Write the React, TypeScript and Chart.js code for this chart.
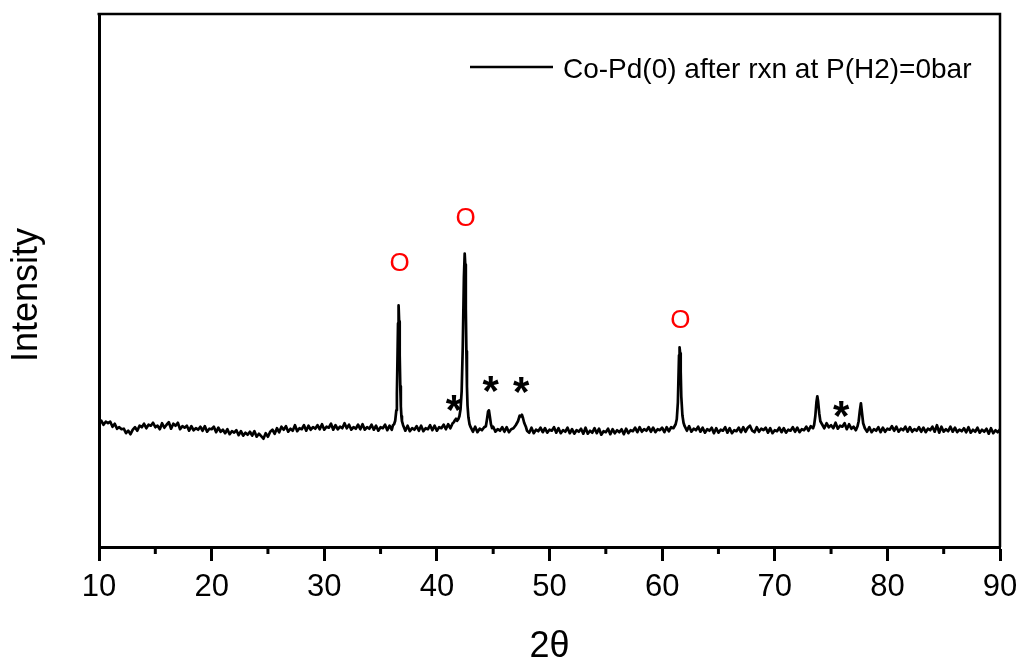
import React, { useEffect, useRef } from 'react';
import { Chart, registerables } from 'chart.js';

Chart.register(...registerables);

const seriesLabel = 'Co-Pd(0) after rxn at P(H2)=0bar';
const xTitle = '2θ';
const yTitle = 'Intensity';
const xRange = [10, 90];
const yRange = [0, 1068];
const minorTicks = [15, 25, 35, 45, 55, 65, 75, 85];

// XRD scan: [2θ, intensity]
const scan: [number, number][] = [
  [10.0, 246], [10.2, 253], [10.4, 245], [10.6, 251], [10.8, 248], [11.0, 251], [11.2, 241], [11.4, 247], [11.6, 237], [11.8, 240],
  [12.0, 236], [12.2, 237], [12.4, 228], [12.6, 233], [12.8, 226], [13.0, 235], [13.2, 240], [13.4, 233], [13.6, 243], [13.8, 240],
  [14.0, 247], [14.2, 238], [14.4, 245], [14.6, 243], [14.8, 249], [15.0, 240], [15.2, 243], [15.4, 236], [15.6, 248], [15.8, 239],
  [16.0, 245], [16.2, 250], [16.4, 237], [16.6, 247], [16.8, 243], [17.0, 249], [17.2, 236], [17.4, 242], [17.6, 239], [17.8, 243],
  [18.0, 233], [18.2, 242], [18.4, 234], [18.6, 238], [18.8, 235], [19.0, 241], [19.2, 233], [19.4, 242], [19.6, 231], [19.8, 237],
  [20.0, 236], [20.2, 241], [20.4, 230], [20.6, 239], [20.8, 231], [21.0, 235], [21.2, 228], [21.4, 236], [21.6, 226], [21.8, 232],
  [22.0, 229], [22.2, 234], [22.4, 224], [22.6, 232], [22.8, 223], [23.0, 229], [23.2, 225], [23.4, 231], [23.6, 223], [23.8, 232],
  [24.0, 221], [24.2, 227], [24.4, 222], [24.6, 217], [24.8, 228], [25.0, 221], [25.2, 231], [25.4, 235], [25.6, 227], [25.8, 238],
  [26.0, 230], [26.2, 241], [26.4, 235], [26.6, 242], [26.8, 231], [27.0, 237], [27.2, 233], [27.4, 244], [27.6, 232], [27.8, 238],
  [28.0, 236], [28.2, 244], [28.4, 233], [28.6, 243], [28.8, 235], [29.0, 240], [29.2, 237], [29.4, 244], [29.6, 236], [29.8, 246],
  [30.0, 235], [30.2, 241], [30.4, 239], [30.6, 247], [30.8, 235], [31.0, 244], [31.2, 236], [31.4, 241], [31.6, 238], [31.8, 248],
  [32.0, 238], [32.2, 245], [32.4, 235], [32.6, 240], [32.8, 237], [33.0, 245], [33.2, 236], [33.4, 246], [33.6, 235], [33.8, 240],
  [34.0, 237], [34.2, 245], [34.4, 235], [34.6, 243], [34.8, 233], [35.0, 240], [35.2, 238], [35.4, 245], [35.6, 234], [35.8, 243],
  [36.0, 235], [36.1, 244], [36.2, 246], [36.3, 253], [36.4, 274], [36.45, 308], [36.5, 375], [36.55, 448], [36.6, 484], [36.65, 452],
  [36.7, 384], [36.75, 322], [36.8, 282], [36.85, 262], [36.9, 252], [37.0, 244], [37.2, 233], [37.4, 243], [37.6, 232], [37.8, 238],
  [38.0, 235], [38.2, 242], [38.4, 233], [38.6, 243], [38.8, 232], [39.0, 238], [39.2, 236], [39.4, 244], [39.6, 234], [39.8, 243],
  [40.0, 233], [40.2, 240], [40.4, 238], [40.6, 245], [40.8, 236], [41.0, 246], [41.2, 238], [41.4, 248], [41.5, 250], [41.6, 254],
  [41.7, 257], [41.8, 253], [41.9, 256], [42.0, 262], [42.1, 276], [42.2, 312], [42.3, 402], [42.4, 540], [42.47, 588], [42.52, 566],
  [42.57, 478], [42.62, 392], [42.67, 322], [42.72, 284], [42.8, 260], [42.9, 246], [43.0, 240], [43.2, 231], [43.4, 241], [43.6, 230],
  [43.8, 237], [44.0, 234], [44.2, 240], [44.35, 242], [44.45, 256], [44.55, 272], [44.62, 274], [44.7, 262], [44.8, 246], [44.9, 238],
  [45.0, 241], [45.2, 231], [45.4, 236], [45.6, 233], [45.8, 240], [46.0, 231], [46.2, 240], [46.4, 230], [46.6, 236], [46.8, 238],
  [47.0, 244], [47.2, 252], [47.35, 263], [47.45, 262], [47.55, 265], [47.65, 258], [47.75, 249], [47.9, 241], [48.0, 233], [48.2, 229],
  [48.4, 239], [48.6, 228], [48.8, 235], [49.0, 232], [49.2, 239], [49.4, 230], [49.6, 238], [49.8, 229], [50.0, 235], [50.2, 233],
  [50.4, 240], [50.6, 229], [50.8, 238], [51.0, 228], [51.2, 234], [51.4, 231], [51.6, 239], [51.8, 228], [52.0, 236], [52.2, 227],
  [52.4, 234], [52.6, 231], [52.8, 237], [53.0, 227], [53.2, 239], [53.4, 227], [53.6, 233], [53.8, 229], [54.0, 238], [54.2, 228],
  [54.4, 237], [54.6, 225], [54.8, 232], [55.0, 230], [55.2, 237], [55.4, 226], [55.6, 236], [55.8, 228], [56.0, 234], [56.2, 230],
  [56.4, 236], [56.6, 226], [56.8, 237], [57.0, 228], [57.2, 234], [57.4, 232], [57.6, 239], [57.8, 230], [58.0, 240], [58.2, 231],
  [58.4, 236], [58.6, 233], [58.8, 240], [59.0, 231], [59.2, 239], [59.4, 230], [59.6, 236], [59.8, 234], [60.0, 239], [60.2, 230],
  [60.4, 240], [60.6, 232], [60.8, 240], [61.0, 238], [61.2, 246], [61.3, 256], [61.4, 290], [61.45, 338], [61.5, 384], [61.55, 400],
  [61.6, 388], [61.65, 352], [61.7, 302], [61.8, 264], [61.9, 249], [62.0, 242], [62.2, 233], [62.4, 242], [62.6, 231], [62.8, 237],
  [63.0, 234], [63.2, 241], [63.4, 231], [63.6, 239], [63.8, 229], [64.0, 236], [64.2, 233], [64.4, 239], [64.6, 228], [64.8, 238],
  [65.0, 229], [65.2, 235], [65.4, 233], [65.6, 240], [65.8, 229], [66.0, 238], [66.2, 228], [66.4, 234], [66.6, 232], [66.8, 239],
  [67.0, 230], [67.2, 240], [67.4, 231], [67.6, 239], [67.8, 243], [68.0, 233], [68.2, 230], [68.4, 240], [68.6, 231], [68.8, 237],
  [69.0, 234], [69.2, 239], [69.4, 229], [69.6, 238], [69.8, 228], [70.0, 234], [70.2, 232], [70.4, 239], [70.6, 230], [70.8, 238],
  [71.0, 229], [71.2, 235], [71.4, 233], [71.6, 240], [71.8, 231], [72.0, 239], [72.2, 230], [72.4, 236], [72.6, 234], [72.8, 241],
  [73.0, 233], [73.2, 242], [73.4, 238], [73.5, 245], [73.6, 262], [73.7, 290], [73.78, 302], [73.85, 292], [73.95, 268], [74.05, 252],
  [74.2, 246], [74.4, 238], [74.6, 248], [74.8, 240], [75.0, 244], [75.2, 238], [75.4, 249], [75.6, 237], [75.8, 243], [76.0, 241],
  [76.2, 248], [76.4, 236], [76.6, 246], [76.8, 237], [77.0, 241], [77.2, 234], [77.35, 242], [77.45, 252], [77.55, 272], [77.65, 288],
  [77.75, 268], [77.85, 248], [78.0, 238], [78.2, 231], [78.4, 240], [78.6, 230], [78.8, 236], [79.0, 233], [79.2, 240], [79.4, 230],
  [79.6, 239], [79.8, 231], [80.0, 237], [80.2, 235], [80.4, 242], [80.6, 233], [80.8, 241], [81.0, 231], [81.2, 237], [81.4, 234],
  [81.6, 241], [81.8, 231], [82.0, 240], [82.2, 231], [82.4, 236], [82.6, 233], [82.8, 240], [83.0, 231], [83.2, 239], [83.4, 230],
  [83.6, 237], [83.8, 234], [84.0, 241], [84.2, 231], [84.4, 244], [84.6, 229], [84.8, 241], [85.0, 231], [85.2, 236], [85.4, 232],
  [85.6, 241], [85.8, 231], [86.0, 239], [86.2, 230], [86.4, 235], [86.6, 232], [86.8, 238], [87.0, 230], [87.2, 240], [87.4, 229],
  [87.6, 235], [87.8, 231], [88.0, 239], [88.2, 229], [88.4, 235], [88.6, 231], [88.8, 237], [89.0, 227], [89.2, 238], [89.4, 228],
  [89.6, 234], [89.8, 230], [90.0, 236],
];

// Peak markers (O = oxide phase, * = metal phase)
const markText = ['O', 'O', 'O', '*', '*', '*', '*'];
const markTheta = [36.7, 42.55, 61.62, 41.51, 44.77, 47.49, 75.9];
const markIntensity = [572, 662, 458, 295, 334, 331, 284];

const FONT = '"Liberation Sans", Arial, sans-serif';

const decorPlugin = {
  id: 'decor',
  afterDraw(chart: any) {
    const { ctx, chartArea: a, scales } = chart;
    const x = scales.x;
    const y = scales.y;
    ctx.save();
    ctx.strokeStyle = '#000';
    ctx.lineWidth = 2.5;
    // top + right frame
    ctx.beginPath();
    ctx.moveTo(a.left - 1.5, a.top);
    ctx.lineTo(a.right, a.top);
    ctx.lineTo(a.right, a.bottom);
    ctx.stroke();
    // minor ticks
    ctx.lineWidth = 3;
    minorTicks.forEach((v) => {
      const px = x.getPixelForValue(v);
      ctx.beginPath();
      ctx.moveTo(px, a.bottom);
      ctx.lineTo(px, a.bottom + 7);
      ctx.stroke();
    });
    // peak markers
    ctx.textAlign = 'center';
    ctx.textBaseline = 'alphabetic';
    markText.forEach((t, i) => {
      const px = x.getPixelForValue(markTheta[i]);
      const py = y.getPixelForValue(markIntensity[i]);
      if (t === 'O') {
        ctx.fillStyle = '#ff0000';
        ctx.font = `26px ${FONT}`;
        ctx.fillText(t, px, py + 9.3);
      } else {
        ctx.fillStyle = '#000';
        ctx.font = `bold 42px ${FONT}`;
        ctx.fillText(t, px, py + 24.5);
      }
    });
    // y title
    ctx.save();
    ctx.translate(27, 295);
    ctx.rotate(-Math.PI / 2);
    ctx.fillStyle = '#000';
    ctx.font = `36px ${FONT}`;
    ctx.textAlign = 'center';
    ctx.textBaseline = 'middle';
    ctx.fillText(yTitle, 0, 0);
    ctx.restore();
    // legend
    const ds = chart.data.datasets[0];
    ctx.strokeStyle = ds.borderColor;
    ctx.lineWidth = 2.5;
    ctx.beginPath();
    ctx.moveTo(470, 67);
    ctx.lineTo(553, 67);
    ctx.stroke();
    ctx.fillStyle = '#000';
    ctx.font = `28px ${FONT}`;
    ctx.textAlign = 'left';
    ctx.textBaseline = 'alphabetic';
    ctx.fillText(ds.label, 563, 78);
    ctx.restore();
  },
};

export default function App() {
  const ref = useRef<HTMLCanvasElement>(null);
  useEffect(() => {
    if (!ref.current) return;
    const chart = new Chart(ref.current, {
      type: 'line',
      data: {
        datasets: [
          {
            label: seriesLabel,
            data: scan.map(([t, v]) => ({ x: t, y: v })),
            borderColor: '#000',
            borderWidth: 2.7,
            borderJoinStyle: 'round',
            borderCapStyle: 'round',
            pointRadius: 0,
            fill: false,
            tension: 0,
          },
        ],
      },
      options: {
        responsive: false,
        maintainAspectRatio: false,
        animation: false,
        layout: { padding: { left: 0, top: 14, right: 23, bottom: 0 } },
        plugins: { legend: { display: false }, tooltip: { enabled: false } },
        scales: {
          x: {
            type: 'linear',
            min: xRange[0],
            max: xRange[1],
            afterFit: (s: any) => {
              s.height = 119;
              s.paddingLeft = 0;
              s.paddingRight = 0;
            },
            ticks: {
              stepSize: 10,
              color: '#000',
              font: { family: FONT, size: 31 },
              padding: 8,
              maxRotation: 0,
            },
            grid: {
              display: true,
              drawOnChartArea: false,
              drawTicks: true,
              tickLength: 14,
              tickWidth: 3,
              tickColor: '#000',
            },
            border: { display: true, color: '#000', width: 3 },
            title: {
              display: true,
              text: xTitle,
              color: '#000',
              font: { family: FONT, size: 36, lineHeight: 1.05 },
              padding: 0,
            },
          },
          y: {
            type: 'linear',
            min: yRange[0],
            max: yRange[1],
            afterFit: (s: any) => {
              s.width = 99;
            },
            ticks: { display: false },
            grid: { display: false },
            border: { display: true, color: '#000', width: 3 },
            title: { display: false },
          },
        },
      },
      plugins: [decorPlugin],
    });
    return () => chart.destroy();
  }, []);
  return (
    <div style={{ position: 'fixed', left: 0, top: 0, width: 1023, height: 666, background: '#fff' }}>
      <canvas ref={ref} width={1023} height={666} style={{ display: 'block' }} />
    </div>
  );
}
